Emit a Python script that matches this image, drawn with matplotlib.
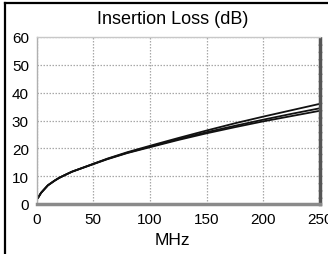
import matplotlib
matplotlib.use("Agg")
import matplotlib.pyplot as plt
from matplotlib.lines import Line2D

plt.rcParams['font.family'] = ['Liberation Sans', 'DejaVu Sans']

freq = [1, 4, 8, 10, 16, 20, 25, 31.25, 50, 62.5, 80, 100, 125, 150, 175, 200, 225, 250]
loss_low = [2.0, 4.0, 5.8, 6.7, 8.4, 9.4, 10.4, 11.6, 14.3, 16.1, 18.3, 20.4, 23.0, 25.4, 27.6, 29.7, 31.6, 33.5]
loss_mid = [2.0, 4.0, 5.8, 6.7, 8.4, 9.4, 10.4, 11.6, 14.4, 16.2, 18.4, 20.6, 23.3, 25.8, 28.1, 30.3, 32.4, 34.4]
loss_high = [2.0, 4.0, 5.8, 6.7, 8.4, 9.4, 10.4, 11.6, 14.4, 16.3, 18.6, 20.9, 23.7, 26.4, 29.0, 31.4, 33.7, 36.0]

xticks = [0, 50, 100, 150, 200, 250]
yticks = [0, 10, 20, 30, 40, 50, 60]
title = "Insertion Loss (dB)"
xlabel = "MHz"

W, H = 328, 255
fig = plt.figure(figsize=(W / 100, H / 100), dpi=100)
ax = fig.add_axes([36.5 / W, 1 - 205 / H, (320 - 36.5) / W, (205 - 38) / H])

for ys in (loss_low, loss_mid, loss_high):
    ax.plot(freq, ys, color='#111111', lw=1.3, solid_capstyle='round')

ax.set_xlim(0, 250)
ax.set_ylim(0, 60)
ax.set_xticks(xticks)
ax.set_yticks(yticks)
ax.tick_params(length=0, labelsize=11, pad=5.5)
ax.grid(True, color='#a8a8a8', lw=0.9, linestyle=(0, (1.2, 1.2)))
ax.set_axisbelow(True)

ax.spines['left'].set_color('#b0b0b0')
ax.spines['left'].set_linewidth(1.0)
ax.spines['top'].set_color('#c8c8c8')
ax.spines['top'].set_linewidth(1.0)
ax.spines['bottom'].set_color('#8a8a8a')
ax.spines['bottom'].set_linewidth(2.5)
ax.spines['right'].set_color('#555555')
ax.spines['right'].set_linewidth(2.5)
ax.spines['right'].set_linestyle((0, (1.5, 0.6)))

fig.text(173 / W, 1 - 20 / H, title, ha='center', va='center', fontsize=13)
fig.text(172 / W, 1 - 241 / H, xlabel, ha='center', va='center', fontsize=12.5)

# outer frame lines (left and top)
fig.add_artist(Line2D([5 / W, 5 / W], [0, 1 - 4 / H], transform=fig.transFigure, color='black', lw=1.6))
fig.add_artist(Line2D([5 / W, 1], [1 - 4 / H, 1 - 4 / H], transform=fig.transFigure, color='black', lw=1.6))

fig.savefig("out.png", dpi=100)
